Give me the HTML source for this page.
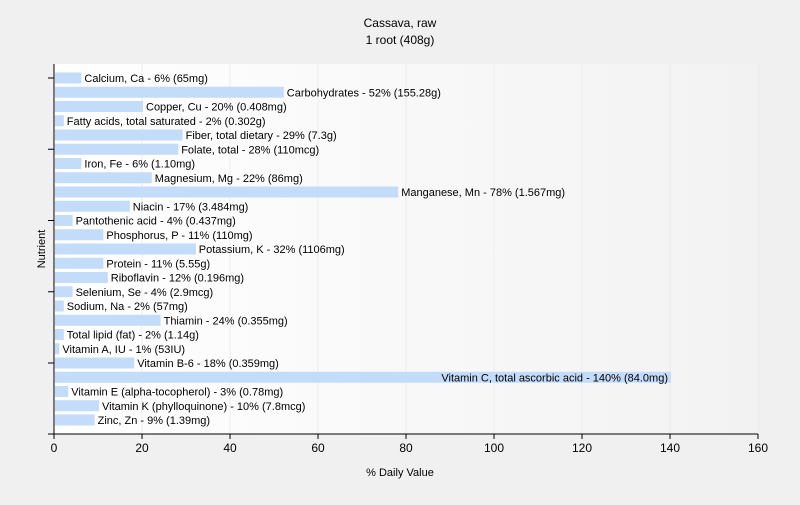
<!DOCTYPE html>
<html><head><meta charset="utf-8"><style>
body{margin:0;background:#f0f0f0;font-family:"Liberation Sans",sans-serif;}
svg text{font-family:"Liberation Sans",sans-serif;fill:#000;}
</style></head><body>
<svg id="chart" width="800" height="500">
<defs><linearGradient id="bg" x1="0" x2="1" y1="0" y2="0"><stop offset="0" stop-color="#ffffff"/><stop offset="1" stop-color="#f2f2f2"/></linearGradient></defs>
<rect x="54" y="64" width="704" height="370" fill="url(#bg)"/>
<text x="400" y="27" font-size="12" text-anchor="middle">Cassava, raw</text>
<text x="400" y="44" font-size="12" text-anchor="middle">1 root (408g)</text>
<text x="400" y="476" font-size="11" text-anchor="middle">% Daily Value</text>
<text x="0" y="0" font-size="11" text-anchor="middle" transform="translate(45,249) rotate(-90)">Nutrient</text>
<g id="grid"></g><g id="bars"></g><g id="axes"></g>
</svg>
<script>
const categories=["Calcium, Ca","Carbohydrates","Copper, Cu","Fatty acids, total saturated","Fiber, total dietary","Folate, total","Iron, Fe","Magnesium, Mg","Manganese, Mn","Niacin","Pantothenic acid","Phosphorus, P","Potassium, K","Protein","Riboflavin","Selenium, Se","Sodium, Na","Thiamin","Total lipid (fat)","Vitamin A, IU","Vitamin B-6","Vitamin C, total ascorbic acid","Vitamin E (alpha-tocopherol)","Vitamin K (phylloquinone)","Zinc, Zn"];
const values=[6,52,20,2,29,28,6,22,78,17,4,11,32,11,12,4,2,24,2,1,18,140,3,10,9];
const amounts=["65mg","155.28g","0.408mg","0.302g","7.3g","110mcg","1.10mg","86mg","1.567mg","3.484mg","0.437mg","110mg","1106mg","5.55g","0.196mg","2.9mcg","57mg","0.355mg","1.14g","53IU","0.359mg","84.0mg","0.78mg","7.8mcg","1.39mg"];
const xTicks=[0,20,40,60,80,100,120,140,160];
const NS="http://www.w3.org/2000/svg";
const x0=54,x1=758,yTop=64,yBot=434,xMax=160;
const n=categories.length,firstC=78,lastC=420,step=(lastC-firstC)/(n-1);
const xs=v=>x0+v/xMax*(x1-x0);
const yc=i=>firstC+i*step;
function mk(t,a,p){const e=document.createElementNS(NS,t);for(const k in a)e.setAttribute(k,a[k]);p.appendChild(e);return e;}
const grid=document.getElementById('grid'),bars=document.getElementById('bars'),axes=document.getElementById('axes');
xTicks.forEach(t=>{
 if(t>0){const g=mk('line',{x1:xs(t),x2:xs(t),y1:yTop,y2:yBot,stroke:'#ececec'},grid);
 
 }
 const tk=mk('line',{x1:xs(t),x2:xs(t),y1:yBot,y2:yBot+5,stroke:'#000'},axes);
 
 
 const lb=mk('text',{x:xs(t),y:yBot+18,'font-size':12,'text-anchor':'middle'},axes);
 lb.textContent=t;
 
 
});
categories.forEach((c,i)=>{
 const r=mk('rect',{x:x0+1,y:yc(i)-5.5,width:xs(values[i])-x0,height:11,fill:'#c2dcfa'},bars);
 
 
 const t=mk('text',{x:xs(values[i])+4,y:yc(i)+4,'font-size':11},bars);
 t.textContent=c+" - "+values[i]+"% ("+amounts[i]+")";
 
 
 if(xs(values[i])+4+t.getComputedTextLength()>x1){
  t.setAttribute('x',xs(values[i])-2);
  t.setAttribute('text-anchor','end');
 }
 if(i%5===0){const tk=mk('line',{x1:x0-6,x2:x0,y1:yc(i),y2:yc(i),stroke:'#000'},axes);
 
 }
});
const tkb=mk('line',{x1:x0-6,x2:x0,y1:yBot,y2:yBot,stroke:'#000'},axes);


const ya=mk('line',{x1:x0,x2:x0,y1:yTop,y2:yBot,stroke:'#000'},axes);


const xa=mk('line',{x1:x0,x2:x1,y1:yBot,y2:yBot,stroke:'#000'},axes);


</script>
</body></html>
